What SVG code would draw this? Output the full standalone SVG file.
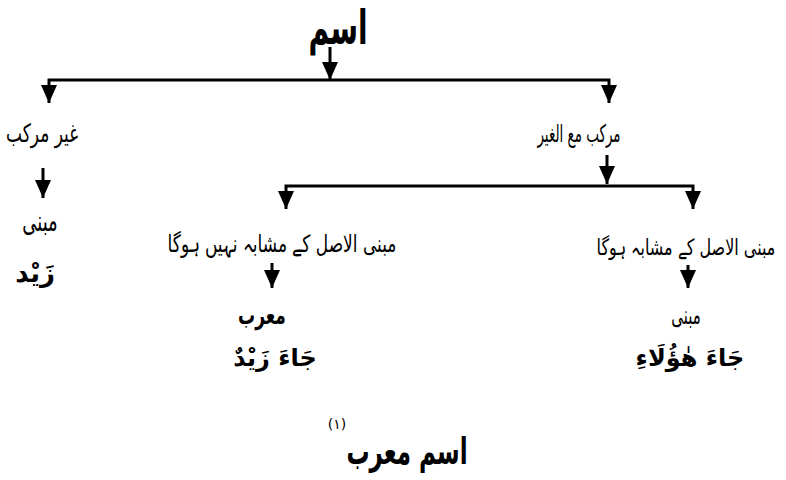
<svg xmlns="http://www.w3.org/2000/svg" width="786" height="480" viewBox="0 0 786 480">
<style>
  .t { font-family: "DejaVu Sans", "Noto Sans", sans-serif; fill: #000; text-anchor: middle; direction: rtl; }
  .b { font-weight: bold; }
  .c { fill: none; stroke: #000; stroke-width: 3; }
</style>
<defs>
  <marker id="ah" markerUnits="userSpaceOnUse" markerWidth="18" markerHeight="16" refX="18" refY="8" orient="auto">
    <path d="M0,0 L18,8 L0,16 z" fill="#000"/>
  </marker>
</defs>
<rect width="786" height="480" fill="#fff"/>
<g id="connectors">
  <path class="c" d="M330,47 V80" marker-end="url(#ah)"/>
  <path class="c" d="M330,80 H49 V103" marker-end="url(#ah)"/>
  <path class="c" d="M330,80 H609 V103" marker-end="url(#ah)"/>
  <path class="c" d="M43,168 V198" marker-end="url(#ah)"/>
  <path class="c" d="M607,155 V184" marker-end="url(#ah)"/>
  <path class="c" d="M607,186 H286 V209" marker-end="url(#ah)"/>
  <path class="c" d="M607,186 H693 V209" marker-end="url(#ah)"/>
  <path class="c" d="M272,263 V288" marker-end="url(#ah)"/>
  <path class="c" d="M688,265 V288" marker-end="url(#ah)"/>
</g>
<g id="ism"><text class="t b" transform="translate(338,44) scale(1,1.7)" font-size="28">اسم</text></g>
<g id="ghair-murakkab"><text class="t" transform="translate(42,142) scale(1,1.5)" font-size="17">غیر مرکب</text></g>
<g id="murakkab-ma-alghair"><text class="t" transform="translate(579,142) scale(1,1.8)" font-size="13.5">مرکب مع الغیر</text></g>
<g id="mabni-left">
  <text class="t" transform="translate(40,231) scale(1,1.6)" font-size="18">مبنی</text>
  <text class="t b" x="35" y="282" font-size="26">زَیْد</text>
</g>
<g id="not-similar"><text class="t" transform="translate(282,252) scale(1,1.4)" font-size="17">مبنی الاصل کے مشابہ نہیں ہوگا</text></g>
<g id="similar"><text class="t" transform="translate(686,255) scale(1,1.4)" font-size="16">مبنی الاصل کے مشابہ ہوگا</text></g>
<g id="murab">
  <text class="t b" transform="translate(262,324) scale(1,1.5)" font-size="17">معرب</text>
  <text class="t b" x="275" y="366" font-size="24">جَاءَ زَیْدٌ</text>
</g>
<g id="mabni-right">
  <text class="t" transform="translate(686,324) scale(1,1.7)" font-size="15">مبنی</text>
  <text class="t b" x="690" y="366" font-size="24">جَاءَ هٰؤُلَاءِ</text>
</g>
<g id="caption">
  <text class="t b" transform="translate(407,464) scale(1,1.6)" font-size="23">اسم معرب</text>
  <text class="t" x="337" y="429" font-size="14">(۱)</text>
</g>
</svg>
